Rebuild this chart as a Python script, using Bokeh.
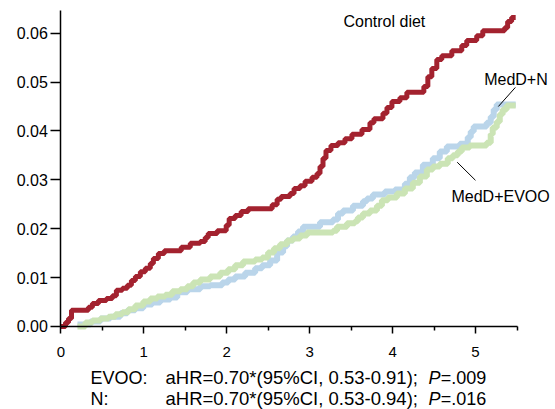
from bokeh.plotting import figure
from bokeh.models import Range1d, FixedTicker, Label
from bokeh.embed import file_html
from bokeh.resources import INLINE

# ---- data (years, cumulative incidence) ----
ctrl_t = [0.00, 0.057, 0.093, 0.129, 0.333, 0.381, 0.454, 0.550, 0.622, 0.670, 0.742, 0.802, 0.851,
          0.899, 0.959, 1.019, 1.079, 1.116, 1.176, 1.248, 1.452, 1.561, 1.681, 1.741, 1.777, 1.886,
          1.994, 2.030, 2.102, 2.174, 2.259, 2.548, 2.608, 2.656, 2.764, 2.812, 2.884, 2.945, 3.029,
          3.089, 3.125, 3.161, 3.197, 3.257, 3.342, 3.426, 3.510, 3.631, 3.727, 3.775, 3.884, 3.932,
          3.992, 4.088, 4.172, 4.377, 4.425, 4.473, 4.533, 4.593, 4.714, 4.834, 4.894, 5.014, 5.087,
          5.351, 5.387, 5.435, 5.484]
ctrl_y = [0.0, 0.0008, 0.0016, 0.0033, 0.0039, 0.0047, 0.0053, 0.0057, 0.0063, 0.0074, 0.0078, 0.0084,
          0.0094, 0.0102, 0.0112, 0.0119, 0.0129, 0.0139, 0.0149, 0.0155, 0.0162, 0.0170, 0.0174,
          0.0182, 0.0190, 0.0196, 0.0207, 0.0221, 0.0227, 0.0235, 0.0241, 0.0249, 0.0260, 0.0266,
          0.0272, 0.0282, 0.0288, 0.0297, 0.0305, 0.0313, 0.0327, 0.0344, 0.0360, 0.0370, 0.0376,
          0.0384, 0.0393, 0.0403, 0.0417, 0.0425, 0.0436, 0.0448, 0.0460, 0.0468, 0.0479, 0.0491,
          0.0511, 0.0528, 0.0546, 0.0554, 0.0564, 0.0575, 0.0585, 0.0595, 0.0605, 0.0611, 0.0624,
          0.0632, 0.0632]

nuts_t = [0.201, 0.357, 0.478, 0.598, 0.718, 0.803, 0.899, 0.995, 1.103, 1.199, 1.320, 1.404, 1.525,
          1.681, 1.801, 1.946, 2.018, 2.102, 2.223, 2.343, 2.427, 2.524, 2.608, 2.680, 2.728, 2.800,
          2.860, 2.920, 3.125, 3.281, 3.342, 3.402, 3.522, 3.643, 3.691, 3.763, 3.907, 4.028, 4.148,
          4.208, 4.268, 4.365, 4.485, 4.569, 4.654, 4.810, 4.906, 4.942, 4.978, 5.134, 5.183, 5.219,
          5.255, 5.484]
nuts_y = [0.0004, 0.0010, 0.0016, 0.0020, 0.0027, 0.0033, 0.0037, 0.0045, 0.0049, 0.0055, 0.0059,
          0.0070, 0.0076, 0.0082, 0.0084, 0.0090, 0.0096, 0.0102, 0.0110, 0.0119, 0.0125, 0.0135,
          0.0151, 0.0164, 0.0176, 0.0184, 0.0194, 0.0204, 0.0213, 0.0219, 0.0231, 0.0237, 0.0247,
          0.0256, 0.0262, 0.0270, 0.0276, 0.0280, 0.0292, 0.0305, 0.0315, 0.0331, 0.0344, 0.0358,
          0.0368, 0.0374, 0.0387, 0.0399, 0.0409, 0.0417, 0.0429, 0.0444, 0.0454, 0.0454]

evoo_t = [0.201, 0.297, 0.381, 0.478, 0.574, 0.658, 0.742, 0.815, 0.899, 0.995, 1.079, 1.164, 1.260,
          1.344, 1.441, 1.525, 1.597, 1.681, 1.801, 1.922, 2.018, 2.102, 2.198, 2.343, 2.427, 2.499,
          2.571, 2.644, 2.728, 2.800, 2.884, 2.969, 3.281, 3.330, 3.450, 3.546, 3.582, 3.643, 3.727,
          3.811, 3.871, 3.944, 4.052, 4.148, 4.244, 4.329, 4.413, 4.485, 4.569, 4.665, 4.726, 4.786,
          4.834, 4.930, 5.134, 5.183, 5.207, 5.255, 5.292, 5.327, 5.375, 5.484]
evoo_y = [0.0, 0.0008, 0.0012, 0.0016, 0.0020, 0.0025, 0.0029, 0.0035, 0.0043, 0.0051, 0.0057, 0.0061,
          0.0065, 0.0072, 0.0076, 0.0082, 0.0090, 0.0096, 0.0102, 0.0110, 0.0117, 0.0125, 0.0133,
          0.0137, 0.0141, 0.0151, 0.0160, 0.0168, 0.0176, 0.0180, 0.0186, 0.0192, 0.0196, 0.0204,
          0.0211, 0.0215, 0.0223, 0.0231, 0.0237, 0.0247, 0.0258, 0.0264, 0.0272, 0.0282, 0.0294,
          0.0307, 0.0321, 0.0327, 0.0333, 0.0344, 0.0350, 0.0358, 0.0366, 0.0370, 0.0376, 0.0393,
          0.0407, 0.0419, 0.0434, 0.0444, 0.0452, 0.0452]

x_ticks = [0, 1, 2, 3, 4, 5]
x_minor = [0.5, 1.5, 2.5, 3.5, 4.5, 5.5]
x_tick_labels = ["0", "1", "2", "3", "4", "5"]
y_ticks = [0.00, 0.01, 0.02, 0.03, 0.04, 0.05, 0.06]
y_tick_labels = ["0.00", "0.01", "0.02", "0.03", "0.04", "0.05", "0.06"]
x_axis_span = (0, 5.5)
y_axis_span = (0, 0.0646)

series_names = ["Control diet", "MedD+N", "MedD+EVOO"]
stats_groups = ["EVOO:", "N:"]
stats_text = ["aHR=0.70*(95%CI, 0.53-0.91); ", "aHR=0.70*(95%CI, 0.53-0.94); "]
stats_p = ["=.009", "=.016"]

FONT = "Liberation Sans"
RED = "#A3222F"
BLUE = "#BAD5EA"
GREEN = "#CBE4B5"

W, H = 555, 409
# frame fills the whole canvas; axes are pinned at the data origin so that
# the annotations around the plot area are inside the (unclipped) frame
p = figure(width=W, height=H, output_backend="svg", toolbar_location=None,
           x_range=Range1d(-0.727, 5.964), y_range=Range1d(-0.0170, 0.06669),
           min_border_left=0, min_border_right=0, min_border_top=0, min_border_bottom=0)
p.outline_line_color = None
p.grid.visible = False
p.background_fill_color = "white"
p.border_fill_color = "white"

p.step(nuts_t, nuts_y, mode="after", line_color=BLUE, line_width=6)
p.step(evoo_t, evoo_y, mode="after", line_color=GREEN, line_width=6)
p.step(ctrl_t, ctrl_y, mode="after", line_color=RED, line_width=5)

xa = p.xaxis[0]
xa.fixed_location = 0
xa.bounds = x_axis_span
xa.ticker = FixedTicker(ticks=x_ticks, minor_ticks=x_minor)
xa.major_label_overrides = {t: l for t, l in zip(x_ticks, x_tick_labels)}
xa.axis_line_width = 1.5
xa.major_tick_line_width = 1.5
xa.minor_tick_line_width = 1.5
xa.major_tick_in = 0
xa.major_tick_out = 7
xa.minor_tick_in = 0
xa.minor_tick_out = 4
xa.major_label_standoff = 14
xa.major_label_text_font = FONT
xa.major_label_text_font_size = "15px"
xa.major_label_text_color = "black"

ya = p.yaxis[0]
ya.fixed_location = 0
ya.bounds = y_axis_span
ya.ticker = FixedTicker(ticks=y_ticks, minor_ticks=[])
ya.major_label_overrides = {t: l for t, l in zip(y_ticks, y_tick_labels)}
ya.axis_line_width = 1.5
ya.major_tick_line_width = 1.5
ya.major_tick_in = 0
ya.major_tick_out = 10
ya.minor_tick_out = 0
ya.major_label_standoff = 3
ya.major_label_text_font = FONT
ya.major_label_text_font_size = "16px"
ya.major_label_text_color = "black"

# series labels
lab_x = [3.408, 5.104, 4.710]
lab_y = [0.0623, 0.0505, 0.0266]
for name, lx, ly in zip(series_names, lab_x, lab_y):
    p.add_layout(Label(x=lx, y=ly, text=name, text_font=FONT, text_font_size="16px",
                       text_color="black", text_baseline="alphabetic", text_align="left"))

lead_x = [[5.480, 5.275], [4.779, 4.999]]
lead_y = [[0.0489, 0.0450], [0.0336, 0.0299]]
p.multi_line(lead_x, lead_y, line_color="black", line_width=1)

# statistics text below the axis
row_y = [-0.01050, -0.01478]
col_x = [0.358, 1.262, 4.433, 4.580]
for g, s, pv, ry in zip(stats_groups, stats_text, stats_p, row_y):
    p.add_layout(Label(x=col_x[0], y=ry, text=g, text_font=FONT, text_font_size="18px",
                       text_color="black", text_baseline="alphabetic"))
    p.add_layout(Label(x=col_x[1], y=ry, text=s, text_font=FONT, text_font_size="18.5px",
                       text_color="black", text_baseline="alphabetic"))
    p.add_layout(Label(x=col_x[2], y=ry, text="P", text_font=FONT, text_font_size="18px",
                       text_font_style="italic", text_color="black", text_baseline="alphabetic"))
    p.add_layout(Label(x=col_x[3], y=ry, text=pv, text_font=FONT, text_font_size="18px",
                       text_color="black", text_baseline="alphabetic"))

open("out.html", "w").write(file_html(p, INLINE))
